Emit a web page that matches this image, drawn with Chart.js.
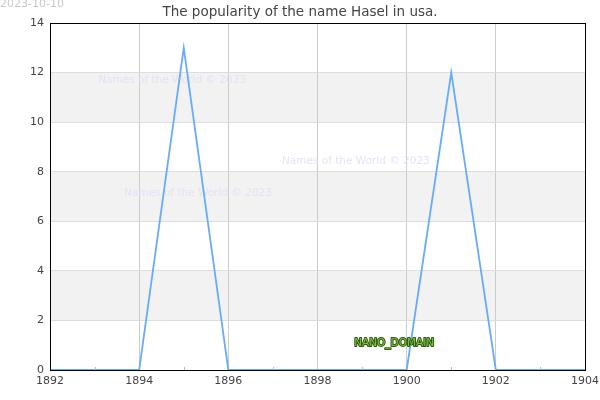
<!DOCTYPE html>
<html><head><meta charset="utf-8">
<script src="https://cdn.jsdelivr.net/npm/chart.js@4"></script>
<style>html,body{margin:0;padding:0;background:#fff}#wrap{width:600px;height:400px}</style>
</head><body><div id="wrap"><canvas id="c" width="600" height="400"></canvas></div>
<script>
const years = [1892,1893,1894,1895,1896,1897,1898,1899,1900,1901,1902,1903,1904];
const counts = [0,0,0,13,0,0,0,0,0,12,0,0,0];
const xTicks = [1892,1894,1896,1898,1900,1902,1904];
const yTicks = [0,2,4,6,8,10,12,14];
const bandRanges = [[2,4],[6,8],[10,12]];
const titleText = 'The popularity of the name Hasel in usa.';
const dateText = '2023-10-10';
const watermarkText = 'Names of the World \u00a9 2023';
const watermarks = [[1894.74,11.7],[1898.86,8.43],[1895.32,7.14]];
const domainText = 'NANO_DOMAIN';
const domainPos = [1899.72,1.09];

const FONT = '"DejaVu Sans", sans-serif';

const deco = {
  id:'deco',
  beforeDatasetsDraw(chart){
    const {ctx, scales:{x,y}} = chart;
    ctx.save();
    ctx.font = '10.5px ' + FONT;
    ctx.fillStyle = 'rgba(225,225,245,0.9)';
    ctx.textAlign = 'center'; ctx.textBaseline = 'middle';
    watermarks.forEach(([wx,wy])=>ctx.fillText(watermarkText, x.getPixelForValue(wx), y.getPixelForValue(wy)));
    ctx.restore();
  },
  beforeDraw(chart){
    const {ctx, chartArea:a, scales:{y}} = chart;
    ctx.save();
    ctx.fillStyle = '#f2f2f2';
    bandRanges.forEach(([lo,hi])=>{
      const t = y.getPixelForValue(hi), b = y.getPixelForValue(lo);
      ctx.fillRect(a.left, t, a.right-a.left, b-t);
    });
    ctx.restore();
  },
  afterDraw(chart){
    const {ctx, chartArea:a, scales:{x,y}} = chart;
    ctx.save();
    ctx.strokeStyle = '#bbb'; ctx.lineWidth = 1;
    years.forEach(v=>{
      if (xTicks.includes(v)) return;
      const px = Math.round(x.getPixelForValue(v))+0.5;
      ctx.beginPath(); ctx.moveTo(px, a.bottom); ctx.lineTo(px, a.bottom-3); ctx.stroke();
    });
    ctx.strokeStyle = '#000'; ctx.lineWidth = 1;
    ctx.strokeRect(Math.round(a.left)+0.5, Math.round(a.top)+0.5, Math.round(a.right-a.left), Math.round(a.bottom-a.top));
    ctx.fillStyle = '#444'; ctx.font = '13.5px ' + FONT;
    ctx.textAlign = 'center'; ctx.textBaseline = 'alphabetic';
    ctx.fillText(titleText, 300, 16);
    ctx.fillStyle = '#c8c8c8'; ctx.font = '11px ' + FONT;
    ctx.textAlign = 'left'; ctx.textBaseline = 'middle';
    ctx.fillText(dateText, 0, 4);
    ctx.font = '10.5px ' + FONT;
    ctx.textAlign = 'center';
    const dx = x.getPixelForValue(domainPos[0]), dy = y.getPixelForValue(domainPos[1]);
    ctx.lineWidth = 2; ctx.strokeStyle = '#2f5a10'; ctx.lineJoin = 'round';
    ctx.strokeText(domainText, dx, dy);
    ctx.fillStyle = '#7cc040';
    ctx.fillText(domainText, dx, dy);
    ctx.restore();
  }
};

new Chart(document.getElementById('c'), {
  type:'line',
  data:{ datasets:[{
    data: years.map((yr,i)=>({x:yr, y:counts[i]})),
    borderColor:'rgb(104,172,248)', borderWidth:1.8, pointRadius:0, tension:0, fill:false
  }]},
  options:{
    responsive:false, animation:false, devicePixelRatio:1,
    layout:{padding:{top:23,right:15,left:0,bottom:0}},
    plugins:{legend:{display:false}, title:{display:false}, tooltip:{enabled:false}},
    scales:{
      x:{ type:'linear', min:1892, max:1904,
        afterBuildTicks(s){ s.ticks = xTicks.map(v=>({value:v})); },
        afterFit(s){ s.height = 30; s.paddingLeft = 0; s.paddingRight = 0; },
        grid:{color:'#cccccc', drawTicks:false, lineWidth:1},
        border:{display:false},
        ticks:{color:'#444', font:{family:FONT,size:11}, padding:5, maxRotation:0,
          callback:v=>String(v)}
      },
      y:{ min:0, max:14,
        afterBuildTicks(s){ s.ticks = yTicks.map(v=>({value:v})); },
        afterFit(s){ s.width = 50; s.paddingTop = 0; s.paddingBottom = 0; },
        grid:{color:'#dddddd', drawTicks:false, lineWidth:1},
        border:{display:false},
        ticks:{color:'#444', font:{family:FONT,size:11}, padding:6}
      }
    }
  },
  plugins:[deco]
});
</script></body></html>
